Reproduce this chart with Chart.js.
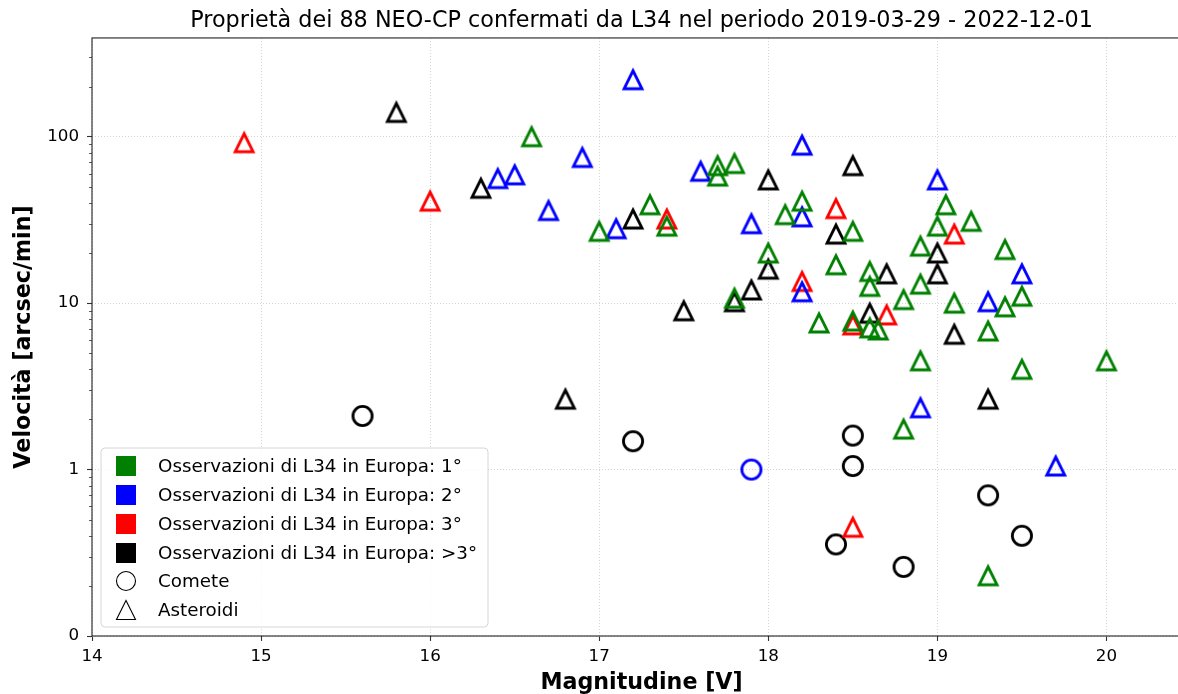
<!DOCTYPE html>
<html>
<head>
<meta charset="utf-8">
<script src="https://cdn.jsdelivr.net/npm/chart.js@4/dist/chart.umd.min.js"></script>
<style>
  html, body { margin: 0; padding: 0; background: #ffffff; overflow: hidden; width: 1178px; height: 694px; }
  canvas { display: block; }
</style>
</head>
<body>
<canvas id="chart" width="1202" height="694"></canvas>
<script>
// Magnitudine V e velocità (arcsec/min) dei NEO-CP confermati, per ordine di osservazione in Europa
const greenAstMag = [16.6, 17.0, 17.3, 17.4, 17.7, 17.7, 17.8, 18.0, 17.8, 18.2, 18.1, 18.5, 18.4, 18.6, 18.6, 18.8, 18.9, 18.5, 18.6, 18.65, 18.3, 18.9, 19.0, 19.05, 19.2, 19.1, 19.4, 19.5, 19.4, 19.3, 18.9, 19.5, 20.0, 18.8, 19.3];
const greenAstVel = [100, 27, 39, 29, 67, 58, 69, 20, 10.7, 41, 34, 27, 17, 15.5, 12.6, 10.5, 13, 7.8, 7.1, 6.9, 7.6, 22, 29, 39, 31, 10, 21, 11, 9.5, 6.8, 4.5, 4.0, 4.5, 1.75, 0.23];

const blueAstMag = [17.2, 16.9, 16.5, 16.4, 16.7, 17.1, 17.9, 17.6, 18.2, 18.2, 18.2, 19.0, 19.5, 19.3, 18.9, 19.7];
const blueAstVel = [220, 75, 59, 56, 36, 28, 30, 62, 89, 33, 11.7, 55, 15, 10.2, 2.35, 1.05];
const blueComMag = [17.9];
const blueComVel = [1.0];

const redAstMag = [14.9, 16.0, 17.4, 18.4, 18.2, 18.7, 18.5, 19.1, 18.5];
const redAstVel = [92, 41, 32, 37, 13.5, 8.5, 7.4, 26, 0.45];

const blackAstMag = [15.8, 16.3, 17.2, 18.0, 18.0, 17.9, 17.8, 17.5, 18.5, 18.4, 18.7, 18.6, 19.0, 19.0, 19.1, 16.8, 19.3];
const blackAstVel = [140, 49, 32, 55, 16, 12, 10.2, 9, 67, 26, 15, 8.7, 20, 15, 6.5, 2.65, 2.65];
const blackComMag = [15.6, 17.2, 18.5, 18.5, 18.4, 19.3, 19.5, 18.8];
const blackComVel = [2.1, 1.48, 1.6, 1.05, 0.355, 0.7, 0.4, 0.26];

const xTicks = [14, 15, 16, 17, 18, 19, 20];
const yTicks = [0.1, 1, 10, 100];
const yTickLabels = ['0', '1', '10', '100'];

const legendLabels = [
  'Osservazioni di L34 in Europa: 1°',
  'Osservazioni di L34 in Europa: 2°',
  'Osservazioni di L34 in Europa: 3°',
  'Osservazioni di L34 in Europa: >3°',
  'Comete',
  'Asteroidi'
];
const legendColors = ['#008000', '#0000ff', '#ff0000', '#000000'];

const FONT = "'DejaVu Sans', 'Liberation Sans', sans-serif";

// Hollow marker sprites
function triangleSprite(color) {
  const c = document.createElement('canvas');
  c.width = 32; c.height = 32;
  const g = c.getContext('2d');
  const h = 9;
  g.beginPath();
  g.moveTo(16, 16 - h);
  g.lineTo(16 - h, 16 + h);
  g.lineTo(16 + h, 16 + h);
  g.closePath();
  g.lineWidth = 2.8;
  g.lineJoin = 'miter';
  g.strokeStyle = color;
  g.stroke();
  return c;
}
function circleSprite(color) {
  const c = document.createElement('canvas');
  c.width = 32; c.height = 32;
  const g = c.getContext('2d');
  g.beginPath();
  g.arc(16, 16, 9.6, 0, Math.PI * 2);
  g.lineWidth = 2.8;
  g.strokeStyle = color;
  g.stroke();
  return c;
}

function points(mag, vel) {
  return mag.map((m, i) => ({ x: m, y: vel[i] }));
}
function series(mag, vel, sprite) {
  return {
    data: points(mag, vel),
    pointStyle: sprite,
    pointRadius: 10,
    pointHoverRadius: 10,
    showLine: false
  };
}

const datasets = [
  series(greenAstMag, greenAstVel, triangleSprite('#008000')),
  series(blueAstMag, blueAstVel, triangleSprite('#0000ff')),
  series(blueComMag, blueComVel, circleSprite('#0000ff')),
  series(redAstMag, redAstVel, triangleSprite('#ff0000')),
  series(blackAstMag, blackAstVel, triangleSprite('#000000')),
  series(blackComMag, blackComVel, circleSprite('#000000'))
];

// Frame, minor log ticks and the legend box
const decorations = {
  id: 'decorations',
  afterDatasetsDraw(chart) {
    const { ctx, chartArea: a, scales } = chart;
    const y = scales.y;
    ctx.save();
    // minor ticks on the log axis
    ctx.strokeStyle = '#333333';
    ctx.lineWidth = 0.8;
    for (const d of [0.1, 1, 10, 100]) {
      for (let k = 2; k <= 9; k++) {
        const v = d * k;
        if (v >= y.max) continue;
        const p = Math.round(y.getPixelForValue(v)) + 0.5;
        ctx.beginPath();
        ctx.moveTo(a.left - 3, p);
        ctx.lineTo(a.left, p);
        ctx.stroke();
      }
    }
    // axes frame
    ctx.strokeStyle = '#222222';
    ctx.lineWidth = 1.1;
    ctx.strokeRect(a.left, a.top, a.right - a.left, a.bottom - a.top);

    // legend
    const bx = 101, by = 448, bw = 387, bh = 179, r = 4;
    ctx.beginPath();
    ctx.moveTo(bx + r, by);
    ctx.arcTo(bx + bw, by, bx + bw, by + bh, r);
    ctx.arcTo(bx + bw, by + bh, bx, by + bh, r);
    ctx.arcTo(bx, by + bh, bx, by, r);
    ctx.arcTo(bx, by, bx + bw, by, r);
    ctx.closePath();
    ctx.fillStyle = 'rgba(255,255,255,0.8)';
    ctx.fill();
    ctx.strokeStyle = '#d6d6d6';
    ctx.lineWidth = 1;
    ctx.stroke();

    const rows = [466, 495, 524, 553, 581, 610];
    const hx = 126;
    ctx.font = '18.3px ' + FONT;
    ctx.textBaseline = 'middle';
    ctx.textAlign = 'left';
    rows.forEach((ry, i) => {
      if (i < 4) {
        ctx.fillStyle = legendColors[i];
        ctx.fillRect(hx - 10, ry - 10, 20, 20);
      } else if (i === 4) {
        ctx.beginPath();
        ctx.arc(hx, ry, 9.5, 0, Math.PI * 2);
        ctx.strokeStyle = '#000';
        ctx.lineWidth = 1.1;
        ctx.stroke();
      } else {
        ctx.beginPath();
        ctx.moveTo(hx, ry - 9.5);
        ctx.lineTo(hx - 9.5, ry + 9.5);
        ctx.lineTo(hx + 9.5, ry + 9.5);
        ctx.closePath();
        ctx.strokeStyle = '#000';
        ctx.lineWidth = 1.1;
        ctx.stroke();
      }
      ctx.fillStyle = '#000';
      ctx.fillText(legendLabels[i], 158, ry + 1);
    });
    ctx.restore();
  }
};

new Chart(document.getElementById('chart'), {
  type: 'scatter',
  data: { datasets },
  plugins: [decorations],
  options: {
    responsive: false,
    animation: false,
    events: [],
    layout: { padding: { left: 0, right: 0, top: 0, bottom: 0 } },
    plugins: {
      legend: { display: false },
      tooltip: { enabled: false },
      title: {
        display: true,
        fullSize: false,
        text: 'Proprietà dei 88 NEO-CP confermati da L34 nel periodo 2019-03-29 - 2022-12-01',
        color: '#000',
        font: { family: FONT, size: 22.3, weight: 'normal', lineHeight: 1.2 },
        padding: { top: 8, bottom: 3.2 }
      }
    },
    scales: {
      x: {
        type: 'linear',
        position: 'bottom',
        min: 14,
        max: 20.5,
        afterBuildTicks: s => { s.ticks = xTicks.map(v => ({ value: v })); },
        afterFit: s => { s.height = 58; },
        grid: {
          color: '#c8c8c8',
          lineWidth: 0.8,
          drawTicks: true,
          tickLength: 5,
          tickColor: '#333333',
          tickWidth: 1.1
        },
        border: { display: false, dash: [1, 2] },
        ticks: {
          color: '#000',
          font: { family: FONT, size: 16.7 },
          padding: 6,
          maxRotation: 0,
          autoSkip: false,
          callback: v => String(v)
        },
        title: {
          display: true,
          text: 'Magnitudine [V]',
          color: '#000',
          font: { family: FONT, size: 22.2, weight: 'bold', lineHeight: 1.2 },
          padding: { top: 0, bottom: -3 }
        }
      },
      y: {
        type: 'logarithmic',
        position: 'left',
        min: 0.1,
        max: 392,
        afterBuildTicks: s => { s.ticks = yTicks.map(v => ({ value: v })); },
        afterFit: s => { s.width = 92; s.paddingTop = 0; s.paddingBottom = 0; },
        grid: {
          color: '#c8c8c8',
          lineWidth: 0.8,
          drawTicks: true,
          tickLength: 5,
          tickColor: '#333333',
          tickWidth: 1.1
        },
        border: { display: false, dash: [1, 2] },
        ticks: {
          color: '#000',
          font: { family: FONT, size: 16.7 },
          padding: 8,
          autoSkip: false,
          callback: (v) => {
            const i = yTicks.indexOf(v);
            return i >= 0 ? yTickLabels[i] : '';
          }
        },
        title: {
          display: true,
          text: 'Velocità [arcsec/min]',
          color: '#000',
          font: { family: FONT, size: 22.2, weight: 'bold', lineHeight: 1.2 },
          padding: { top: 11, bottom: 0 }
        }
      }
    }
  }
});
</script>
</body>
</html>
